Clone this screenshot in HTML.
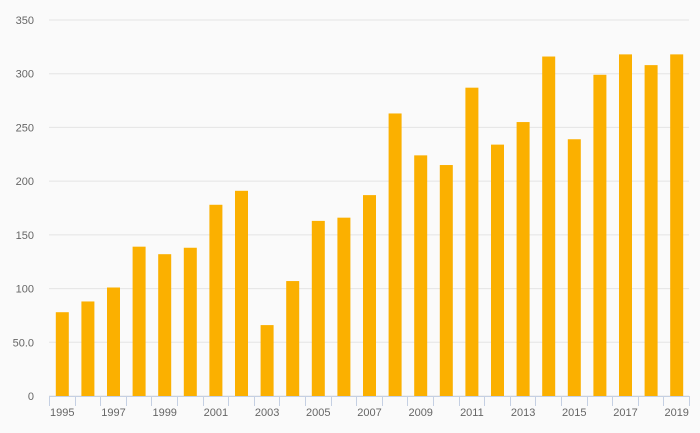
<!DOCTYPE html>
<html><head><meta charset="utf-8"><style>
body{margin:0;background:#fafafa;font-family:"Liberation Sans",sans-serif;}
svg{display:block}
</style></head><body>
<svg id="chart" width="700" height="433"></svg>
<script>
const years=[1995,1996,1997,1998,1999,2000,2001,2002,2003,2004,2005,2006,2007,2008,2009,2010,2011,2012,2013,2014,2015,2016,2017,2018,2019];
const values=[78,88,101,139,132,138,178,191,66,107,163,166,187,263,224,215,287,234,255,316,239,299,318,308,318];
const yTicks=[0,50,100,150,200,250,300,350];
const yTickLabels=["0","50.0","100","150","200","250","300","350"];
const NS="http://www.w3.org/2000/svg";
const svg=document.getElementById('chart');
const L=49,R=689,T=20,B=396,ymax=350;
const band=(R-L)/years.length;
const y=v=>B-(v/ymax)*(B-T);
const x=i=>L+band*i;
function mk(t,a){const e=document.createElementNS(NS,t);for(const k in a)e.setAttribute(k,a[k]);svg.appendChild(e);return e;}
yTicks.forEach((v,i)=>{
  const g=mk('line',{x1:L,x2:R,y1:y(v),y2:y(v),stroke:'#e4e4e4','stroke-width':1});
  
  
  const t=mk('text',{x:34,y:y(v)+4,'text-anchor':'end','font-size':11,fill:'#666'});
  t.textContent=yTickLabels[i];
  
  
});
values.forEach((v,i)=>{
  const r=mk('rect',{x:x(i)+band/2-6,y:y(v),width:13,height:B-y(v),fill:'#fbb000'});
  
  
});
const ax=mk('line',{x1:L,x2:R,y1:B+0.5,y2:B+0.5,stroke:'#c5d0e3','stroke-width':1});


for(let i=0;i<=years.length;i++){
  const tk=mk('line',{x1:Math.round(x(i))+0.5,x2:Math.round(x(i))+0.5,y1:B,y2:B+10,stroke:'#c5d0e3','stroke-width':1});
  
  
}
years.forEach((yr,i)=>{
  if(i%2) return;
  const t=mk('text',{x:x(i)+band/2+0.5,y:416,'text-anchor':'middle','font-size':11,fill:'#666'});
  t.textContent=yr;
  
  
});
</script>
</body></html>
